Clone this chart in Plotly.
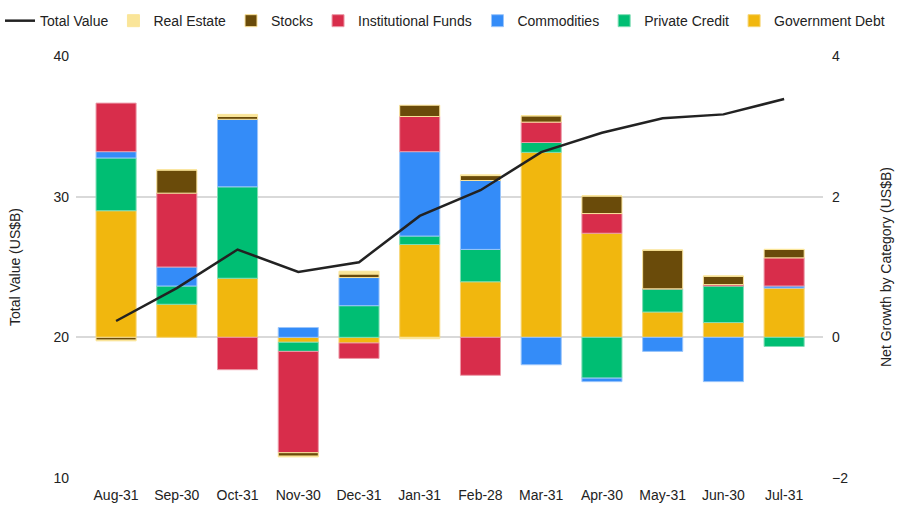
import plotly.graph_objects as go

# -------------------------
# DATA (US$B)
# -------------------------
months = ["Aug-31", "Sep-30", "Oct-31", "Nov-30", "Dec-31", "Jan-31",
          "Feb-28", "Mar-31", "Apr-30", "May-31", "Jun-30", "Jul-31"]

total_value = [21.16, 23.5, 26.24, 24.65, 25.34, 28.63,
               30.46, 33.17, 34.54, 35.57, 35.85, 36.94]

government_debt = [1.80, 0.47, 0.84, -0.07, -0.08, 1.32, 0.79, 2.63, 1.48, 0.36, 0.21, 0.70]
private_credit = [0.75, 0.26, 1.30, -0.13, 0.45, 0.12, 0.46, 0.14, -0.58, 0.33, 0.52, -0.13]
commodities = [0.09, 0.27, 0.96, 0.14, 0.40, 1.20, 0.98, -0.39, -0.05, -0.20, -0.63, 0.03]
institutional_funds = [0.69, 1.05, -0.46, -1.44, -0.22, 0.50, -0.54, 0.29, 0.28, 0.0, 0.02, 0.40]
stocks = [-0.04, 0.33, 0.04, -0.05, 0.05, 0.16, 0.07, 0.09, 0.25, 0.55, 0.12, 0.12]
real_estate = [-0.01, 0.0, 0.03, -0.01, 0.04, -0.02, 0.01, 0.0, 0.0, 0.0, 0.0, 0.0]

# -------------------------
# STYLE
# -------------------------
FONT = "Liberation Sans, Arial, sans-serif"
# (name, values, fill, edge, legend rank, which legend)
bar_series = [
    ("Government Debt", government_debt, "#F1B70E", "#F6D574", 7, "legend2"),
    ("Private Credit", private_credit, "#00BE73", "#7FDDB5", 6, "legend2"),
    ("Commodities", commodities, "#348CF8", "#9AC5FB", 5, "legend2"),
    ("Institutional Funds", institutional_funds, "#D82D4B", "#EC9AA8", 4, "legend"),
    ("Stocks", stocks, "#6A4B0A", "#FAE39A", 3, "legend"),
    ("Real Estate", real_estate, "#FAE599", "#FAE599", 2, "legend"),
]

fig = go.Figure()

# stacked bars (net growth, right-hand axis)
for name, vals, color, edge, rank, leg in bar_series:
    fig.add_trace(go.Bar(
        x=months, y=vals, name=name, yaxis="y",
        marker=dict(color=color, line=dict(color=edge, width=1)),
        width=0.66, legendrank=rank, legend=leg,
    ))

# total value line (left-hand axis), drawn on top
fig.add_trace(go.Scatter(
    x=months, y=total_value, name="Total Value", yaxis="y2",
    mode="lines", line=dict(color="#222222", width=2.5),
    legendrank=1, legend="legend",
))

# legend is split in two so it stays on one row
legend_common = dict(
    orientation="h", xref="container", xanchor="left",
    yref="container", y=0.959, yanchor="middle",
    font=dict(size=14), itemwidth=30, traceorder="normal",
)

fig.update_layout(
    width=906, height=514,
    margin=dict(l=76, r=83, t=56, b=36, autoexpand=False),
    barmode="relative",
    plot_bgcolor="white",
    paper_bgcolor="white",
    font=dict(family=FONT, size=14, color="#222222"),
    legend=dict(legend_common, x=0.0),
    legend2=dict(legend_common, x=0.527),
    xaxis=dict(
        range=[-0.66, 11.64], showgrid=False, ticks="",
        tickfont=dict(size=14), ticklabelstandoff=7,
    ),
    yaxis=dict(
        side="right", range=[-2, 4], tickvals=[-2, 0, 2, 4],
        showgrid=False, zeroline=False, ticklabelstandoff=8,
        title=dict(text="Net Growth by Category (US$B)", font=dict(size=14), standoff=34),
    ),
    yaxis2=dict(
        overlaying="y", side="left", range=[10, 40], tickvals=[10, 20, 30, 40],
        showgrid=True, gridcolor="#D9D9D9", gridwidth=1.5, zeroline=False,
        ticklabelstandoff=6,
        title=dict(text="Total Value (US$B)", font=dict(size=14), standoff=29),
    ),
)

fig.write_html(
    "out.html",
    config={"displayModeBar": False},
    post_script="document.body.style.margin='0';",
)
